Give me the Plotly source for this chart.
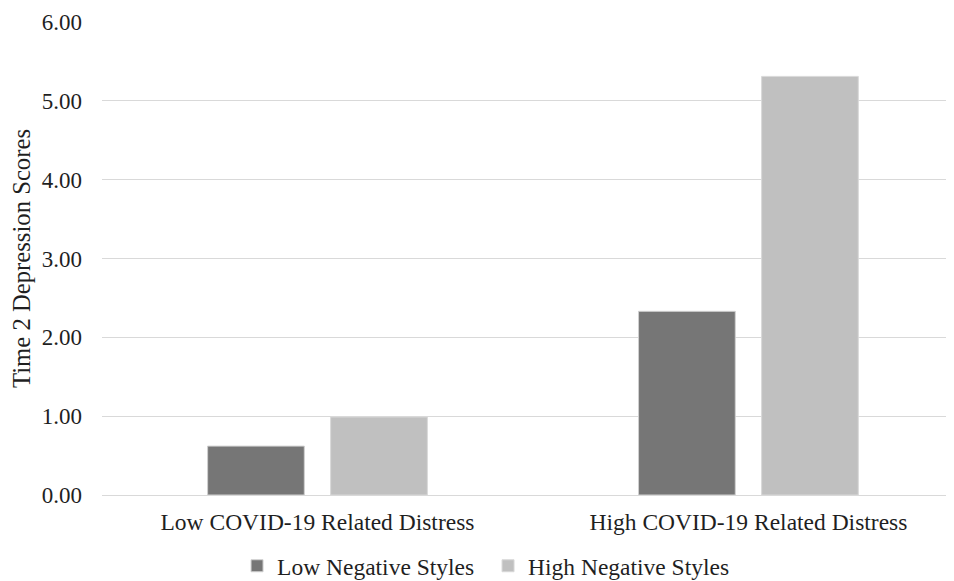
import plotly.graph_objects as go

categories = ["Low COVID-19 Related Distress", "High COVID-19 Related Distress"]
series_names = ["Low Negative Styles", "High Negative Styles"]
low_neg = [0.62, 2.33]
high_neg = [0.99, 5.31]
y_ticks = [0, 1, 2, 3, 4, 5, 6]

FONT = "Liberation Serif"
TXT = "#1f1f1f"

fig = go.Figure()
fig.add_trace(go.Bar(x=categories, y=low_neg, name=series_names[0],
                     marker=dict(color="#767676", line=dict(color="#d0d0d0", width=1))))
fig.add_trace(go.Bar(x=categories, y=high_neg, name=series_names[1],
                     marker=dict(color="#c0c0c0", line=dict(color="#d9d9d9", width=1))))

# page body has an 8px default margin, so the figure is offset by 8px
fig.update_layout(
    width=946, height=573,
    margin=dict(l=94, r=0, t=14, b=86),
    paper_bgcolor="white", plot_bgcolor="white",
    barmode="group", bargap=0.429, bargroupgap=0.214,
    font=dict(family=FONT, size=23.5, color=TXT),
    legend=dict(orientation="h", x=0.1585, xanchor="left",
                yref="container", y=0.0262, yanchor="middle",
                entrywidth=206, entrywidthmode="pixels",
                font=dict(family=FONT, size=23.5, color=TXT), itemwidth=30),
    showlegend=True,
)
fig.update_xaxes(range=[-0.5, 1.477], showgrid=False, showline=False, ticks="",
                 ticklabelstandoff=10, tickfont=dict(size=23.5), automargin=False)
fig.update_yaxes(range=[0, 6], tickvals=y_ticks, tickformat=".2f",
                 showgrid=True, gridcolor="#d9d9d9", gridwidth=1,
                 zeroline=True, zerolinecolor="#d9d9d9", zerolinewidth=1,
                 showline=False, ticks="", ticklabelstandoff=19,
                 tickfont=dict(size=23), automargin=False,
                 title=dict(text="Time 2 Depression Scores", font=dict(size=24.7), standoff=10))

fig.write_html("out.html")
